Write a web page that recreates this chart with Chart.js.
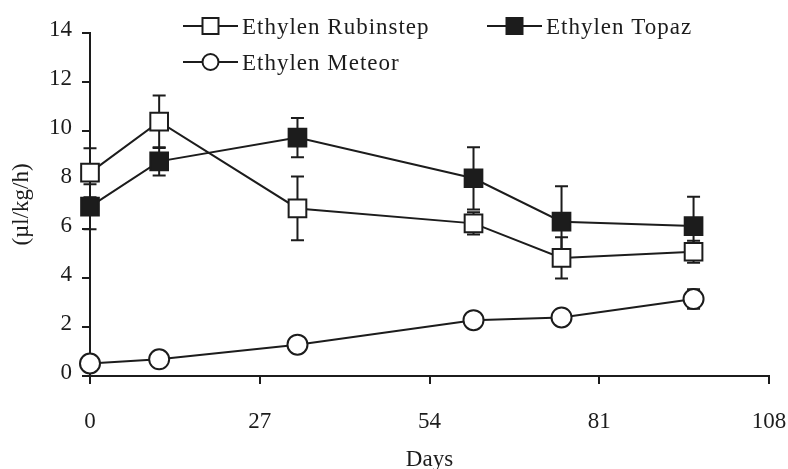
<!DOCTYPE html>
<html><head><meta charset="utf-8">
<script src="https://cdn.jsdelivr.net/npm/chart.js@4/dist/chart.umd.min.js"></script>
<style>html,body{margin:0;padding:0;background:#fff;} canvas{display:block;}</style>
</head><body>
<canvas id="c" width="788" height="469"></canvas>
<script>
// ---- data ----
const days = [0, 11, 33, 61, 75, 96];
const seriesNames = ['Ethylen Rubinstep', 'Ethylen Topaz', 'Ethylen Meteor'];
const rubinstep = [8.30, 10.38, 6.84, 6.23, 4.82, 5.07];
const rubinstepErr = [1.00, 1.07, 1.30, 0.45, 0.84, 0.45];
const topaz = [6.91, 8.76, 9.73, 8.07, 6.30, 6.12];
const topazErr = [0.92, 0.58, 0.80, 1.27, 1.45, 1.20];
const meteor = [0.51, 0.68, 1.28, 2.28, 2.39, 3.14];
const meteorErr = [0.10, 0.10, 0.15, 0.20, 0.20, 0.40];
const xTicks = [0, 27, 54, 81, 108];
const yTicks = [0, 2, 4, 6, 8, 10, 12, 14];
const xTitle = 'Days';
const yTitle = '(µl/kg/h)';

const INK = '#1c1c1c';
const FONT = "'Liberation Serif', 'Times New Roman', serif";

function pts(vals) { return days.map((d, i) => ({x: d, y: vals[i]})); }

function mkDataset(label, vals, errs, style, fill, radius) {
  return {
    label, data: pts(vals), errorBars: errs,
    borderColor: INK, borderWidth: 2, tension: 0, showLine: true, fill: false,
    pointStyle: style, pointRadius: radius, pointHoverRadius: radius,
    pointBackgroundColor: fill, pointBorderColor: INK, pointBorderWidth: 2,
    clip: false
  };
}

const errorBarPlugin = {
  id: 'errorBars',
  beforeDatasetsDraw(chart) {
    const ctx = chart.ctx, ys = chart.scales.y;
    ctx.save();
    ctx.strokeStyle = INK; ctx.lineWidth = 2;
    chart.data.datasets.forEach((ds, di) => {
      const meta = chart.getDatasetMeta(di);
      meta.data.forEach((el, i) => {
        const e = ds.errorBars[i]; const v = ds.data[i].y;
        const top = ys.getPixelForValue(v + e), bot = ys.getPixelForValue(v - e);
        const x = el.x, cw = 6.5;
        ctx.beginPath();
        ctx.moveTo(x, top); ctx.lineTo(x, bot);
        ctx.moveTo(x - cw, top); ctx.lineTo(x + cw, top);
        ctx.moveTo(x - cw, bot); ctx.lineTo(x + cw, bot);
        ctx.stroke();
      });
    });
    ctx.restore();
  }
};

const legendPlugin = {
  id: 'customLegend',
  afterDraw(chart) {
    const ctx = chart.ctx;
    const slots = [{x: 183, y: 26}, {x: 487, y: 26}, {x: 183, y: 62}];
    ctx.save();
    chart.data.datasets.forEach((ds, i) => {
      const s = slots[i];
      ctx.strokeStyle = INK; ctx.lineWidth = 2;
      ctx.beginPath(); ctx.moveTo(s.x, s.y); ctx.lineTo(s.x + 55, s.y); ctx.stroke();
      const cx = s.x + 27.5;
      ctx.fillStyle = ds.pointBackgroundColor;
      ctx.beginPath();
      if (ds.pointStyle === 'rect') ctx.rect(cx - 8, s.y - 8, 16, 16);
      else ctx.arc(cx, s.y, 8, 0, Math.PI * 2);
      ctx.fill(); ctx.stroke();
      ctx.fillStyle = INK;
      ctx.font = '23px ' + FONT;
      try { ctx.letterSpacing = '1px'; } catch (e) {}
      ctx.textAlign = 'left'; ctx.textBaseline = 'alphabetic';
      ctx.fillText(ds.label, s.x + 59, s.y + 7.5);
    });
    ctx.restore();
  }
};

new Chart(document.getElementById('c'), {
  type: 'scatter',
  data: {
    datasets: [
      mkDataset(seriesNames[0], rubinstep, rubinstepErr, 'rect', '#ffffff', 12.5),
      mkDataset(seriesNames[1], topaz, topazErr, 'rect', INK, 12.5),
      mkDataset(seriesNames[2], meteor, meteorErr, 'circle', '#ffffff', 10)
    ]
  },
  options: {
    responsive: false, animation: false, devicePixelRatio: 1,
    layout: {padding: {left: 0, right: 0, top: 33, bottom: 0}},
    plugins: {legend: {display: false}, tooltip: {enabled: false}},
    scales: {
      x: {
        type: 'linear', min: 0, max: 108,
        afterBuildTicks: s => { s.ticks = xTicks.map(v => ({value: v})); },
        afterFit: s => { s.height = 93; s.paddingRight = 19; },
        grid: {display: true, drawOnChartArea: false, drawTicks: true, tickLength: 8, color: INK, lineWidth: 2},
        border: {display: true, color: INK, width: 2},
        ticks: {color: INK, font: {family: FONT, size: 23}, padding: 24, maxRotation: 0},
        title: {display: true, text: xTitle, color: INK, font: {family: FONT, size: 23}, padding: {top: 0, bottom: -5}}
      },
      y: {
        type: 'linear', min: 0, max: 14,
        afterBuildTicks: s => { s.ticks = yTicks.map(v => ({value: v})); },
        afterFit: s => { s.width = 90; },
        grid: {display: true, drawOnChartArea: false, drawTicks: true, tickLength: 8, color: INK, lineWidth: 2},
        border: {display: true, color: INK, width: 2},
        ticks: {color: INK, font: {family: FONT, size: 23}, padding: 10, labelOffset: -3},
        title: {display: true, text: yTitle, color: INK, font: {family: FONT, size: 23}, padding: {top: 8, bottom: 0}}
      }
    }
  },
  plugins: [errorBarPlugin, legendPlugin]
});
</script>
</body></html>
